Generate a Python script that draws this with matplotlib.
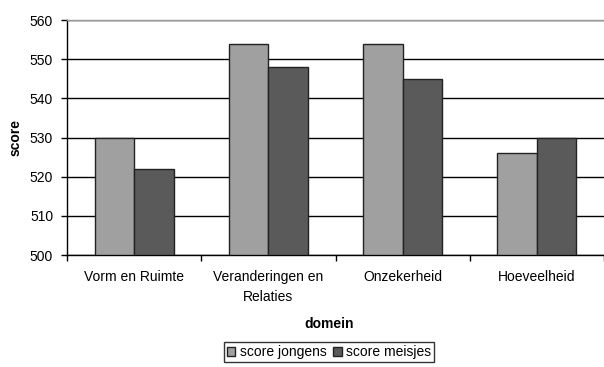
import matplotlib
matplotlib.use("Agg")
import matplotlib.pyplot as plt
import numpy as np

categories = ["Vorm en Ruimte", "Veranderingen en\nRelaties", "Onzekerheid", "Hoeveelheid"]
score_jongens = [530, 554, 554, 526]
score_meisjes = [522, 548, 545, 530]
series_names = ["score jongens", "score meisjes"]
yticks = [500, 510, 520, 530, 540, 550, 560]

plt.rcParams["font.family"] = ["Liberation Sans", "DejaVu Sans"]
FS = 10

fig = plt.figure(figsize=(6.04, 3.67), dpi=100)
ax = fig.add_axes([67 / 604, 1 - 255 / 367, 1 - 67 / 604, (255 - 20) / 367])

x = np.arange(len(categories))
w = 0.295
ax.bar(x - w / 2, [v - 500 for v in score_jongens], w, bottom=500,
       color="#a0a0a0", edgecolor="#222222", linewidth=1.0, zorder=3, label=series_names[0])
ax.bar(x + w / 2, [v - 500 for v in score_meisjes], w, bottom=500,
       color="#5a5a5a", edgecolor="#222222", linewidth=1.0, zorder=3, label=series_names[1])

ax.set_xlim(-0.5, len(categories) - 0.5)
ax.set_ylim(500, 560)
ax.set_yticks(yticks)
ax.yaxis.grid(True, color="black", linewidth=1.0, zorder=1)
ax.set_axisbelow(True)

ax.set_xticks(np.arange(-0.5, len(categories), 1.0), minor=False)
ax.set_xticklabels([])
ax.set_xticks(x, minor=True)
ax.set_xticklabels(categories, minor=True, fontsize=FS, linespacing=1.5)
ax.tick_params(axis="x", which="minor", length=0, pad=11)
ax.tick_params(axis="x", which="major", length=4, direction="out", width=1)
ax.tick_params(axis="y", length=4, direction="out", width=1, labelsize=FS, pad=6)

for s in ["left", "bottom"]:
    ax.spines[s].set_color("black")
    ax.spines[s].set_linewidth(1.0)
ax.spines["right"].set_visible(False)
ax.spines["top"].set_color("#999999")
ax.spines["top"].set_linewidth(1.0)

ax.set_ylabel("score", fontsize=FS, fontweight="bold", labelpad=5)
fig.text(329 / 604, 1 - 324 / 367, "domein", fontsize=FS, fontweight="bold",
         ha="center", va="center")

leg = fig.legend(loc="center", bbox_to_anchor=(329 / 604, 1 - 352 / 367), ncol=2,
                 frameon=True, fancybox=False, fontsize=FS, handlelength=0.6,
                 handleheight=0.6, handletextpad=0.3, columnspacing=0.5,
                 borderpad=0.2, borderaxespad=0)
leg.get_frame().set_edgecolor("black")
leg.get_frame().set_linewidth(1.0)

fig.savefig("out.png", dpi=100)
